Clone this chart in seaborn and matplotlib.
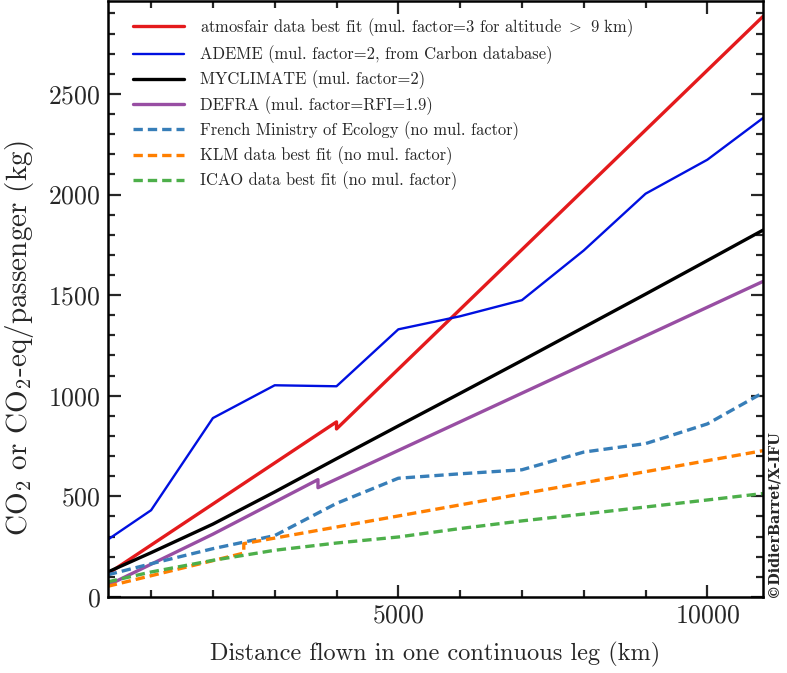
import numpy as np
import pandas as pd
import matplotlib
matplotlib.use('Agg')
import matplotlib.pyplot as plt
from matplotlib.ticker import MultipleLocator
import seaborn as sns

# distances (km) and emissions (kg CO2 or CO2-eq per passenger)
atmosfair_km = [300, 4000, 4000, 10900]
atmosfair_kg = [115, 870, 835, 2885]

ademe_km = [300, 1000, 2000, 3000, 4000, 5000, 6000, 7000, 8000, 9000, 10000, 10900]
ademe_kg = [285, 431, 889, 1052, 1047, 1330, 1395, 1475, 1722, 2004, 2173, 2380]

myclimate_km = [300, 1000, 2000, 3000, 4000, 5000, 6000, 7000, 8000, 9000, 10000, 10900]
myclimate_kg = [124, 220, 362, 522, 687, 850, 1012, 1175, 1340, 1505, 1672, 1823]

defra_km = [300, 2000, 3700, 3700, 10900]
defra_kg = [58, 312, 583, 543, 1568]

french_km = [300, 1000, 2000, 3000, 4000, 5000, 6000, 7000, 8000, 9000, 10000, 10900]
french_kg = [110, 165, 240, 305, 465, 590, 612, 632, 720, 762, 860, 1015]

klm_km = [300, 2500, 2500, 10900]
klm_kg = [53, 218, 265, 727]

icao_km = [300, 1000, 2000, 3000, 4000, 5000, 6000, 7000, 8000, 9000, 10000, 10900]
icao_kg = [75, 124, 182, 232, 268, 298, 340, 378, 412, 447, 482, 514]

labels = [
    r'atmosfair data best fit (mul. factor=3 for altitude $>$ 9 km)',
    'ADEME (mul. factor=2, from Carbon database)',
    'MYCLIMATE (mul. factor=2)',
    'DEFRA (mul. factor=RFI=1.9)',
    'French Ministry of Ecology (no mul. factor)',
    'KLM data best fit (no mul. factor)',
    'ICAO data best fit (no mul. factor)',
]

sns.set_theme(style='ticks')
plt.rcParams['font.family'] = ['serif']
plt.rcParams['font.serif'] = ['cmr10', 'DejaVu Serif']
plt.rcParams['mathtext.fontset'] = 'cm'
plt.rcParams['axes.formatter.use_mathtext'] = True
plt.rcParams['axes.unicode_minus'] = False

fig = plt.figure(figsize=(7.87, 6.73), dpi=100)
ax = fig.add_axes([0.137, 0.113, 0.8325, 0.885])

series = [
    (atmosfair_km, atmosfair_kg, '#e41a1c', '-', 2.4),
    (ademe_km, ademe_kg, '#0010e0', '-', 1.7),
    (myclimate_km, myclimate_kg, 'black', '-', 2.4),
    (defra_km, defra_kg, '#984ea3', '-', 2.4),
    (french_km, french_kg, '#377eb8', '--', 2.4),
    (klm_km, klm_kg, '#ff7f00', '--', 2.4),
    (icao_km, icao_kg, '#4daf4a', '--', 2.4),
]

for (km, kg, col, ls, lw), lab in zip(series, labels):
    df = pd.DataFrame({'km': km, 'kg': kg})
    sns.lineplot(data=df, x='km', y='kg', color=col, linestyle=ls, linewidth=lw,
                 estimator=None, sort=False, label=lab, ax=ax)
    if ls == '--':
        ax.lines[-1].set_dashes((2.8, 1.5))

ax.set_xlim(300, 10900)
ax.set_ylim(0, 2960)
ax.xaxis.set_major_locator(MultipleLocator(5000))
ax.xaxis.set_minor_locator(MultipleLocator(1000))
ax.yaxis.set_major_locator(MultipleLocator(500))
ax.yaxis.set_minor_locator(MultipleLocator(100))
ax.tick_params(which='both', direction='in', top=True, right=True,
               labelsize=18.5, pad=5, width=1.6)
ax.tick_params(which='major', length=9)
ax.tick_params(which='minor', length=5)
for sp in ax.spines.values():
    sp.set_linewidth(1.8)
    sp.set_color('black')

ax.set_xlabel('Distance flown in one continuous leg (km)', fontsize=17.5, labelpad=10)
ax.set_ylabel(r'CO$_2$ or CO$_2$-eq/passenger (kg)', fontsize=21)
ax.yaxis.set_label_coords(-0.11, 0.435)

leg = ax.legend(loc='upper left', bbox_to_anchor=(0.015, 1.0), frameon=False,
                fontsize=11.9, handlelength=3.1, handletextpad=1.0,
                labelspacing=0.4, borderaxespad=0.4, borderpad=0.5)
for h in leg.get_lines():
    if h.get_linestyle() == '--':
        h.set_dashes((2.8, 1.5))

ax.text(1.006, 0.0, '©DidierBarret/X-IFU', transform=ax.transAxes, rotation=90,
        ha='left', va='bottom', fontsize=10.3, fontweight='bold',
        family=['DejaVu Serif'])

fig.savefig('out.png', dpi=100)
